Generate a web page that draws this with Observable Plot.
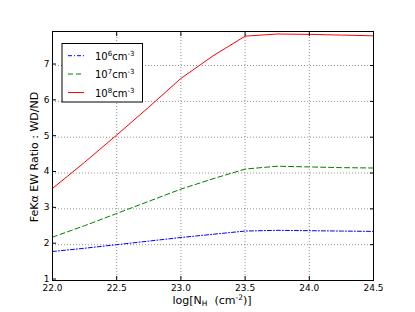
<!DOCTYPE html>
<html>
<head>
<meta charset="utf-8">
<script src="https://cdn.jsdelivr.net/npm/d3@7"></script>
<script src="https://cdn.jsdelivr.net/npm/@observablehq/plot@0.6"></script>
<style>
  html, body { margin: 0; padding: 0; background: #fff; }
  #chart { width: 415px; height: 312px; }
  svg { font-family: "DejaVu Sans", sans-serif; }
</style>
</head>
<body>
<div id="chart"></div>
<script>
const logNH = [22.0, 22.25, 22.5, 22.75, 23.0, 23.25, 23.5, 23.75, 24.0, 24.25, 24.5];
const ratio1e6 = [1.81, 1.90, 2.00, 2.10, 2.20, 2.29, 2.38, 2.40, 2.39, 2.38, 2.37];
const ratio1e7 = [2.21, 2.53, 2.87, 3.21, 3.55, 3.84, 4.11, 4.19, 4.17, 4.15, 4.14];
const ratio1e8 = [3.57, 4.30, 5.06, 5.84, 6.64, 7.27, 7.82, 7.88, 7.87, 7.85, 7.83];
const xTicks = [22.0, 22.5, 23.0, 23.5, 24.0, 24.5];
const yTicks = [1, 2, 3, 4, 5, 6, 7];
const seriesNames = ["6", "7", "8"];
const seriesColors = ["#0000ff", "#008000", "#ff0000"];
const seriesDash = ["4,2,1,2", "5,3", null];

const seriesValues = [ratio1e6, ratio1e7, ratio1e8];
const data = seriesValues.map(vals => logNH.map((x, i) => ({x, y: vals[i]})));

const gridStyle = {stroke: "#000", strokeOpacity: 0.55, strokeDasharray: "1,2", strokeWidth: 0.8};

const chart = Plot.plot({
  width: 415,
  height: 312,
  marginLeft: 52,
  marginRight: 42,
  marginTop: 31,
  marginBottom: 32,
  style: {fontFamily: "DejaVu Sans, sans-serif", fontSize: "9px", background: "#fff", color: "#000"},
  x: {domain: [22.0, 24.5]},
  y: {domain: [1, 7.95]},
  marks: [
    Plot.gridX(xTicks, gridStyle),
    Plot.gridY(yTicks, gridStyle),
    ...data.map((d, i) => Plot.line(d, {
      x: "x", y: "y",
      stroke: seriesColors[i],
      strokeWidth: 1,
      strokeDasharray: seriesDash[i]
    })),
    Plot.axisX(xTicks, {anchor: "bottom", tickSize: -4, tickPadding: 8, tickFormat: d3.format(".1f"), label: null, fontSize: 9}),
    Plot.axisX(xTicks, {anchor: "top", tickSize: -4, tickFormat: () => "", label: null}),
    Plot.axisY(yTicks, {anchor: "left", tickSize: -4, tickPadding: 7, dy: -1.5, tickFormat: d3.format("d"), label: null, fontSize: 9}),
    Plot.axisY(yTicks, {anchor: "right", tickSize: -4, tickFormat: () => "", label: null}),
    Plot.frame({stroke: "#000", strokeWidth: 1})
  ]
});
document.getElementById("chart").appendChild(chart);

const svg = d3.select(chart);
// Axis labels
const xl = svg.append("text")
  .attr("x", 212).attr("y", 304)
  .attr("text-anchor", "middle")
  .attr("font-size", "11px").attr("fill", "#000");
xl.append("tspan").text("log[N");
xl.append("tspan").attr("font-size", "7.5px").attr("dy", "2").text("H");
xl.append("tspan").attr("dy", "-2").text("\u00a0\u00a0(cm");
xl.append("tspan").attr("font-size", "7.5px").attr("dy", "-4").text("-2");
xl.append("tspan").attr("dy", "4").text(")]");

svg.append("text")
  .attr("transform", "translate(38,157) rotate(-90)")
  .attr("text-anchor", "middle")
  .attr("font-size", "11px").attr("fill", "#000")
  .text("FeKα EW Ratio : WD/ND");

// Legend
const lg = svg.append("g").attr("text-anchor", "start");
lg.append("rect").attr("x", 62).attr("y", 43.5).attr("width", 80.5).attr("height", 58.5)
  .attr("fill", "#fff").attr("stroke", "#000").attr("stroke-width", 1);
const rowsY = [55.7, 74, 92.5];
seriesNames.forEach((n, i) => {
  lg.append("line").attr("x1", 68).attr("x2", 84).attr("y1", rowsY[i]).attr("y2", rowsY[i])
    .attr("stroke", seriesColors[i]).attr("stroke-width", 1)
    .attr("stroke-dasharray", seriesDash[i]);
  const t = lg.append("text").attr("x", 95).attr("y", rowsY[i] + 4)
    .attr("text-anchor", "start")
    .attr("font-size", "10px").attr("fill", "#000");
  t.append("tspan").text("10");
  t.append("tspan").attr("font-size", "7px").attr("dy", "-4").text(n);
  t.append("tspan").attr("dy", "4").text("cm");
  t.append("tspan").attr("font-size", "7px").attr("dy", "-4").text("-3");
});
</script>
</body>
</html>
